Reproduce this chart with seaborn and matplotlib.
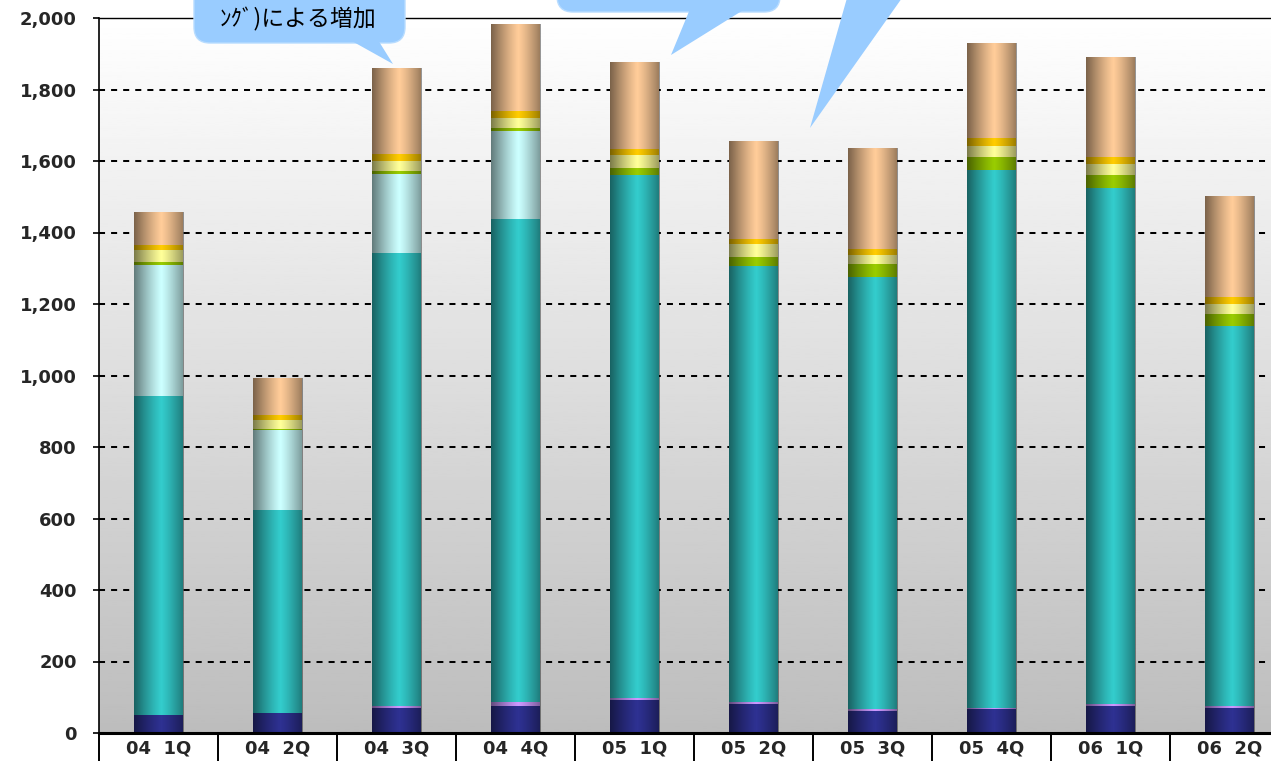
import numpy as np
import matplotlib
matplotlib.use("Agg")
import matplotlib.pyplot as plt
import seaborn as sns
from matplotlib.patches import FancyBboxPatch, Polygon
from matplotlib.ticker import FuncFormatter, FixedLocator

sns.set_style("white")
plt.rcParams['font.family'] = ['Noto Sans CJK JP', 'DejaVu Sans']

quarters = ['04  1Q', '04  2Q', '04  3Q', '04  4Q', '05  1Q',
            '05  2Q', '05  3Q', '05  4Q', '06  1Q', '06  2Q']

# stacked segments, bottom to top
navy = [51, 56, 70, 75, 92, 81, 62, 68, 76, 71]
violet = [0, 0, 5, 12, 6, 6, 5, 3, 6, 5]
teal = [891, 568, 1268, 1351, 1463, 1220, 1208, 1505, 1443, 1062]
cyan = [367, 224, 222, 247, 0, 0, 0, 0, 0, 0]
green = [9, 2, 8, 7, 20, 24, 36, 35, 35, 34]
yellow = [32, 26, 28, 28, 36, 36, 25, 31, 31, 28]
gold = [14, 14, 19, 20, 17, 14, 19, 22, 20, 19]
tan = [93, 103, 240, 243, 243, 275, 281, 266, 280, 283]

layers = [navy, violet, teal, cyan, green, yellow, gold, tan]
colors = ['#2e3192', '#cc99ff', '#33cccc', '#ccffff',
          '#99cc00', '#ffff99', '#ffcc00', '#ffcc99']

fig = plt.figure(figsize=(12.71, 7.61), dpi=100)
ax = fig.add_axes([99 / 1271, 28 / 761, 1190 / 1271, 715 / 761])

# background gradient (white top -> grey bottom)
grad = np.linspace(1.0, 0.74, 256).reshape(-1, 1)
ax.imshow(grad, cmap='gray', vmin=0, vmax=1, extent=[0, 1, 0, 1],
          transform=ax.transAxes, aspect='auto', zorder=0)

bottom = np.zeros(len(quarters))
for vals, col in zip(layers, colors):
    sns.barplot(x=quarters, y=vals, bottom=bottom, color=col, width=0.42,
                saturation=1, errorbar=None, ax=ax, zorder=2, linewidth=0)
    bottom = bottom + np.array(vals)

# cylinder shading on each segment
t = np.linspace(0, 1, 80)
alpha = 0.52 * (np.abs(t - 0.55) / 0.55) ** 1.2
shade = np.zeros((1, 80, 4))
shade[0, :, 3] = alpha
for p in list(ax.patches):
    if p.get_height() <= 0:
        continue
    x0, y0 = p.get_x(), p.get_y()
    im = ax.imshow(shade, extent=[x0, x0 + p.get_width(), y0, y0 + p.get_height()],
                   aspect='auto', zorder=3, interpolation='bilinear')
    im.set_clip_path(p)

ax.set_xlim(-0.5, len(quarters) - 0.5)
ax.set_ylim(0, 2000)
ax.set_yticks(range(0, 2001, 200))
ax.yaxis.set_major_formatter(FuncFormatter(lambda v, p: f'{int(v):,}'))
ax.set_axisbelow(True)
ax.yaxis.grid(True, color='black', linestyle=(0, (3, 3)), linewidth=1.45, zorder=1)
ax.xaxis.grid(False)

ax.tick_params(axis='y', left=True, length=4, width=1.2, color='black',
               direction='out', pad=12)
ax.tick_params(axis='x', which='major', length=0, pad=5)
ax.xaxis.set_minor_locator(FixedLocator(np.arange(-0.5, len(quarters), 1)))
ax.tick_params(axis='x', which='minor', bottom=True, length=21, width=1.4,
               color='black', direction='out')
for lab in ax.get_xticklabels() + ax.get_yticklabels():
    lab.set_fontfamily('DejaVu Sans')
    lab.set_fontweight('bold')
    lab.set_fontsize(13)

for s in ['left', 'bottom', 'top']:
    ax.spines[s].set_color('black')
ax.spines['left'].set_linewidth(1.2)
ax.spines['bottom'].set_linewidth(2.2)
ax.spines['top'].set_linewidth(1.0)
ax.spines['right'].set_visible(False)
ax.set_xlabel('')
ax.set_ylabel('')

# callouts overlay in pixel coordinates
ov = fig.add_axes([0, 0, 1, 1], zorder=10)
ov.set_xlim(0, 1271)
ov.set_ylim(761, 0)
ov.axis('off')
ov.patch.set_alpha(0)

bubble = '#99ccff'
ov.add_patch(FancyBboxPatch((194, -60), 211, 103, boxstyle='round,pad=0,rounding_size=16',
                            fc=bubble, ec='#b8dcff', lw=1))
ov.add_patch(Polygon([[350, 40], [378, 40], [393, 64]], fc=bubble, ec='none'))
ov.text(220, 19, 'ﾝｸﾞ)による増加', fontsize=16.5, va='center', ha='left', color='black')

ov.add_patch(FancyBboxPatch((557, -60), 223, 72, boxstyle='round,pad=0,rounding_size=16',
                            fc=bubble, ec='#b8dcff', lw=1))
ov.add_patch(Polygon([[690, 9], [745, 9], [671, 55]], fc=bubble, ec='none'))

ov.add_patch(Polygon([[847, -2], [902, -2], [810, 128]], fc=bubble, ec='none'))

fig.savefig('out.png', dpi=100)
